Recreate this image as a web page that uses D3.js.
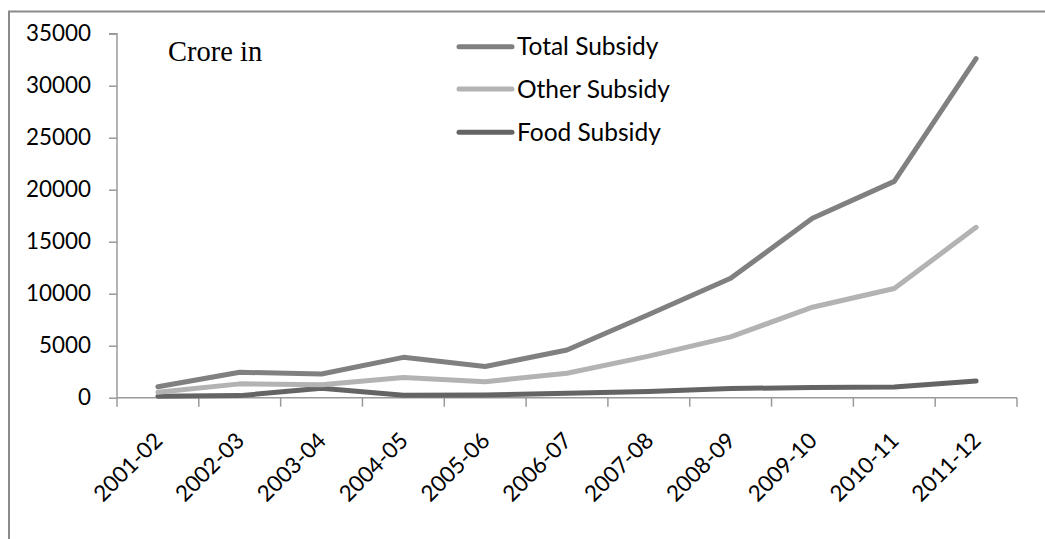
<!DOCTYPE html>
<html>
<head>
<meta charset="utf-8">
<script src="https://cdn.jsdelivr.net/npm/d3@7/dist/d3.min.js"></script>
<style>
  html, body { margin: 0; padding: 0; background: #fff; overflow: hidden; }
  svg { display: block; }
</style>
</head>
<body>
<svg id="chart" width="1045" height="539"></svg>
<script>
const categories = ["2001-02","2002-03","2003-04","2004-05","2005-06","2006-07","2007-08","2008-09","2009-10","2010-11","2011-12"];
const totalSubsidy = [1050, 2440, 2280, 3880, 3000, 4590, 8000, 11480, 17250, 20800, 32600];
const otherSubsidy = [520, 1330, 1250, 1940, 1540, 2350, 4000, 5850, 8700, 10500, 16380];
const foodSubsidy  = [150, 200, 900, 230, 270, 430, 600, 880, 980, 1030, 1600];
const yTicks = [0, 5000, 10000, 15000, 20000, 25000, 30000, 35000];
const seriesNames = ["Total Subsidy", "Other Subsidy", "Food Subsidy"];
const seriesColors = ["#808080", "#b3b3b3", "#646464"];
const unitLabel = "Crore in";

const svg = d3.select("#chart");

// outer chart border (clipped by the viewport on right/bottom)
svg.append("rect")
  .attr("x", 9).attr("y", 11.5)
  .attr("width", 1200).attr("height", 700)
  .attr("fill", "none").attr("stroke", "#8a8a8a").attr("stroke-width", 2);

const x = d3.scaleBand().domain(categories).range([117, 1017]).padding(0);
const y = d3.scaleLinear().domain([0, 35000]).range([397.7, 33.7]);

const axisColor = "#9a9a9a";
const tickFont = "Lato, 'Open Sans', sans-serif";

// Y axis
const yAxis = svg.append("g").attr("transform", "translate(117,0)")
  .call(d3.axisLeft(y).tickValues(yTicks).tickSize(8).tickPadding(18).tickFormat(d3.format("d")));
yAxis.selectAll("path, line").attr("stroke", axisColor).attr("stroke-width", 1.5);
yAxis.select(".domain").attr("d", `M-8,${y(35000)}H0V${y(0)}`);
yAxis.selectAll("text").attr("font-family", tickFont).attr("font-size", 22.4).attr("fill", "#000");

// X axis: ticks at category boundaries
const xAxisG = svg.append("g");
xAxisG.append("line")
  .attr("x1", 117).attr("x2", 1017).attr("y1", y(0)).attr("y2", y(0))
  .attr("stroke", axisColor).attr("stroke-width", 1.5);
const boundaries = categories.map(c => x(c)).concat([x(categories[categories.length-1]) + x.bandwidth()]);
xAxisG.selectAll("line.tick").data(boundaries).enter().append("line")
  .attr("class", "tick")
  .attr("x1", d => d).attr("x2", d => d)
  .attr("y1", y(0)).attr("y2", y(0) + 9)
  .attr("stroke", axisColor).attr("stroke-width", 1.5);
xAxisG.selectAll("text").data(categories).enter().append("text")
  .attr("transform", d => `translate(${x(d) + x.bandwidth()/2 + 6},${442}) rotate(-45)`)
  .attr("text-anchor", "end")
  .attr("font-family", tickFont).attr("font-size", 22.4).attr("fill", "#000")
  .text(d => d);

// lines (Food first so Total sits on top)
const seriesData = [totalSubsidy, otherSubsidy, foodSubsidy];
const line = d3.line()
  .x((d, i) => x(categories[i]) + x.bandwidth()/2)
  .y(d => y(d));
[2, 1, 0].forEach(k => {
  svg.append("path")
    .datum(seriesData[k])
    .attr("d", line)
    .attr("fill", "none")
    .attr("stroke", seriesColors[k])
    .attr("stroke-width", 5)
    .attr("stroke-linecap", "round")
    .attr("stroke-linejoin", "round");
});

// legend
const legendY = [46.7, 89, 132.3];
seriesNames.forEach((name, k) => {
  svg.append("line")
    .attr("x1", 459).attr("x2", 512)
    .attr("y1", legendY[k]).attr("y2", legendY[k])
    .attr("stroke", seriesColors[k]).attr("stroke-width", 5)
    .attr("stroke-linecap", "round");
  svg.append("text")
    .attr("x", 517).attr("y", legendY[k])
    .attr("dy", "0.35em")
    .attr("font-family", tickFont).attr("font-size", 24.5).attr("fill", "#000")
    .text(name);
});

// unit label
svg.append("text")
  .attr("x", 168).attr("y", 60.5)
  .attr("font-family", "'Liberation Serif', 'Times New Roman', serif")
  .attr("font-size", 28.5).attr("fill", "#000")
  .text(unitLabel);
</script>
</body>
</html>
